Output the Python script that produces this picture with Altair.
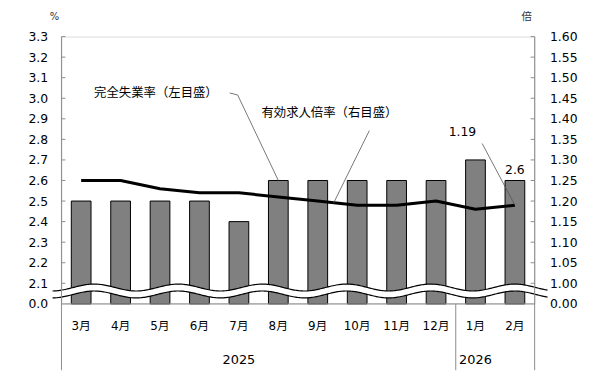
import altair as alt
import pandas as pd
import numpy as np

# ---- data ----
months = ["3月", "4月", "5月", "6月", "7月", "8月", "9月", "10月", "11月", "12月", "1月", "2月"]
unemployment = [2.5, 2.5, 2.5, 2.5, 2.4, 2.6, 2.6, 2.6, 2.6, 2.6, 2.7, 2.6]
job_ratio = [1.25, 1.25, 1.23, 1.22, 1.22, 1.21, 1.20, 1.19, 1.19, 1.20, 1.18, 1.19]
left_ticks = [2.0, 2.1, 2.2, 2.3, 2.4, 2.5, 2.6, 2.7, 2.8, 2.9, 3.0, 3.1, 3.2, 3.3]
right_ticks = [0.95, 1.00, 1.05, 1.10, 1.15, 1.20, 1.25, 1.30, 1.35, 1.40, 1.45, 1.50, 1.55, 1.60]
year_labels = ["2025", "2026"]
year_anchor = ["7月", "1月"]

W, H = 478, 270
FONT = "DejaVu Sans, Noto Sans CJK JP"
JFONT = "Noto Sans CJK JP"
GRAY = "#8c8c8c"

df = pd.DataFrame({"month": months, "rate": unemployment, "ratio": job_ratio})
last = df.tail(1)

xscale = alt.Scale(domain=months, paddingInner=0, paddingOuter=0)
yL = alt.Scale(domain=[2.0, 3.3], nice=False, zero=False)
yR = alt.Scale(domain=[0.95, 1.60], nice=False, zero=False)


def X(**kw):
    return alt.X("month:N", scale=xscale, axis=None, title=None, **kw)


bars = alt.Chart(df).mark_bar(
    fill="#808080", stroke="#000000", strokeWidth=1, width=alt.RelativeBandSize(0.5)
).encode(
    x=alt.X("month:N", scale=xscale, title=None,
            axis=alt.Axis(labelAngle=0, ticks=False, domain=False, grid=False,
                          labelPadding=17, labelFontSize=12, labelColor="#000",
                          labelFont=FONT)),
    y=alt.Y("rate:Q", scale=yL, title=None,
            axis=alt.Axis(orient="left", values=left_ticks, ticks=False, domain=False,
                          grid=False, labelPadding=14, labelFontSize=12.5,
                          labelColor="#000", labelFont=FONT,
                          labelExpr="datum.value < 2.05 ? '0.0' : format(datum.value, '.1f')")),
    y2=alt.datum(2.0),
)

# axis break (decorative wave)
wx = np.linspace(-9, W + 13, 400)
phase = np.cos(2 * np.pi * (wx - 33) / 85.0)
wave = pd.DataFrame({"wx": wx,
                     "up": 2.0794 + 0.0168 * phase,
                     "lo": 2.0457 + 0.0168 * phase})
wxs = alt.Scale(domain=[0, W], nice=False, zero=False)
wave_area = alt.Chart(wave).mark_area(color="white", clip=False).encode(
    x=alt.X("wx:Q", scale=wxs, axis=None),
    y=alt.Y("lo:Q", scale=yL, axis=None), y2="up:Q")
wave_up = alt.Chart(wave).mark_line(color="black", strokeWidth=1.2, clip=False).encode(
    x=alt.X("wx:Q", scale=wxs, axis=None), y=alt.Y("up:Q", scale=yL, axis=None))
wave_lo = alt.Chart(wave).mark_line(color="black", strokeWidth=1.2, clip=False).encode(
    x=alt.X("wx:Q", scale=wxs, axis=None), y=alt.Y("lo:Q", scale=yL, axis=None))

line = alt.Chart(df).mark_line(color="black", strokeWidth=3, strokeJoin="round").encode(
    x=X(),
    y=alt.Y("ratio:Q", scale=yR, title=None,
            axis=alt.Axis(orient="right", values=right_ticks, ticks=False, domain=False,
                          grid=False, labelPadding=15, labelFontSize=12.5,
                          labelColor="#000", labelFont=FONT,
                          labelExpr="datum.value < 0.97 ? '0.00' : format(datum.value, '.2f')")),
)

# inner tick marks
lt = pd.DataFrame({"v": left_ticks[1:]})
rt = pd.DataFrame({"v": right_ticks[1:]})
lticks = alt.Chart(lt).mark_rule(color=GRAY).encode(
    y=alt.Y("v:Q", scale=yL, axis=None), x=alt.value(0), x2=alt.value(4))
rticks = alt.Chart(rt).mark_rule(color=GRAY).encode(
    y=alt.Y("v:Q", scale=yR, axis=None), x=alt.value(W - 4), x2=alt.value(W))

# axis frame lines
bottom = alt.Chart(df.head(1)).mark_rule(color=GRAY).encode(
    x=alt.value(0), x2=alt.value(W), y=alt.value(H))
vleft = alt.Chart(df.head(1)).mark_rule(color=GRAY).encode(
    x=X(bandPosition=0), y=alt.value(0), y2=alt.value(H + 67))
vright = alt.Chart(last).mark_rule(color=GRAY).encode(
    x=X(bandPosition=1), y=alt.value(0), y2=alt.value(H + 67))
vdiv = alt.Chart(df[df.month == "12月"]).mark_rule(color=GRAY).encode(
    x=X(bandPosition=1), y=alt.value(H), y2=alt.value(H + 67))

years_df = pd.DataFrame({"month": year_anchor, "year": year_labels})
years = alt.Chart(years_df).mark_text(fontSize=13, font=FONT, baseline="middle").encode(
    x=X(bandPosition=1), y=alt.value(H + 57), text="year:N")

# unit labels
unit_l = alt.Chart(df.head(1)).mark_text(text="%", fontSize=10, font=FONT, color="#333").encode(
    x=alt.value(-7), y=alt.value(-20))
unit_r = alt.Chart(df.head(1)).mark_text(text="倍", fontSize=10.5, font=JFONT, color="#333").encode(
    x=alt.value(W - 8), y=alt.value(-20))

# annotations
ann1 = alt.Chart(df.head(1)).mark_text(
    text="完全失業率（左目盛）", fontSize=12.5, font=JFONT, align="left", baseline="middle").encode(
    x=alt.value(33), y=alt.value(57))
ann2 = alt.Chart(df.head(1)).mark_text(
    text="有効求人倍率（右目盛）", fontSize=12.5, font=JFONT, align="left", baseline="middle").encode(
    x=alt.value(202), y=alt.value(77))
LC = "#555555"
lead1a = alt.Chart(df.head(1)).mark_rule(color=LC, strokeWidth=0.8).encode(
    x=alt.value(170), y=alt.value(57), x2=alt.value(178), y2=alt.value(59))
lead1b = alt.Chart(df[df.month == "8月"]).mark_rule(color=LC, strokeWidth=0.8).encode(
    x=X(), y=alt.Y("rate:Q", scale=yL, axis=None), x2=alt.value(178), y2=alt.value(59))
lead2 = alt.Chart(df.head(1)).mark_rule(color=LC, strokeWidth=0.8).encode(
    x=alt.value(311), y=alt.value(95), x2=alt.value(275), y2=alt.value(168))
lead3 = alt.Chart(last).mark_rule(color=LC, strokeWidth=0.8).encode(
    x=X(), y=alt.Y("ratio:Q", scale=yR, axis=None), x2=alt.value(425), y2=alt.value(108))
lab_ratio = alt.Chart(last).mark_text(fontSize=12.5, font=FONT, dx=-53, dy=-74,
                                      baseline="middle").encode(
    x=X(), y=alt.Y("ratio:Q", scale=yR, axis=None), text=alt.Text("ratio:Q", format=".2f"))
lab_rate = alt.Chart(last).mark_text(fontSize=12.5, font=FONT, dy=-11,
                                     baseline="middle").encode(
    x=X(), y=alt.Y("rate:Q", scale=yL, axis=None), text=alt.Text("rate:Q", format=".1f"))

chart = alt.layer(
    bars, line, wave_area, wave_up, wave_lo, lticks, rticks, bottom, vleft, vright, vdiv,
    years, unit_l, unit_r, ann1, ann2, lead1a, lead1b, lead2, lead3, lab_ratio, lab_rate,
).resolve_scale(x="independent", y="independent").properties(
    width=W, height=H,
    autosize=alt.AutoSizeParams(type="none"),
    padding={"left": 54, "top": 27, "right": 62, "bottom": 70},
).configure_view(stroke=None).configure(background="white")

chart.save("out.html", embed_options={"renderer": "svg", "actions": False})
